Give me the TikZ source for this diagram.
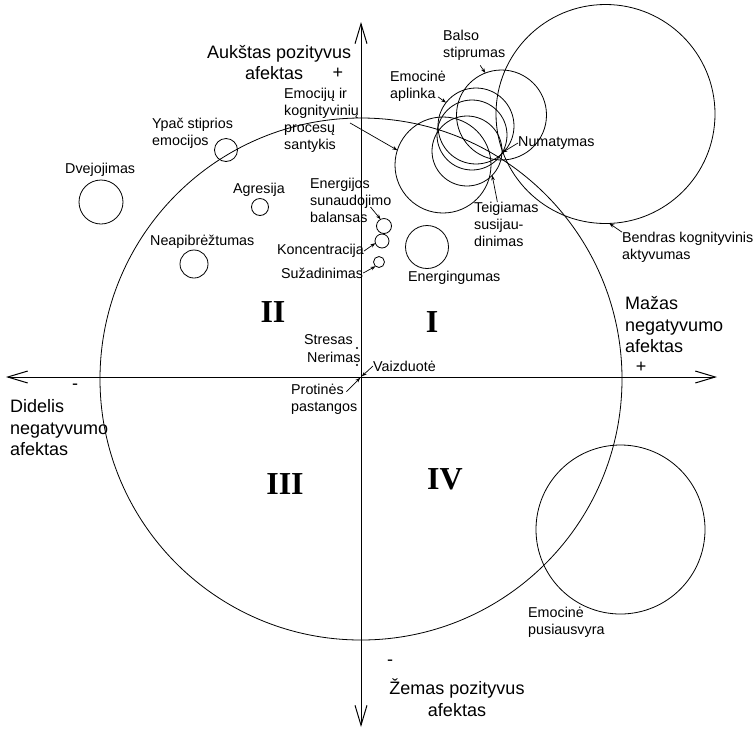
\documentclass[tikz,border=0pt]{standalone}
\usepackage{fontspec}
\setmainfont{Liberation Sans}
\newfontfamily\quadfont{Liberation Serif}
\usetikzlibrary{arrows.meta}
\tikzset{
  ring/.style={circle, draw=black, line width=0.8pt, inner sep=0pt, outer sep=0pt},
  spot/.style={circle, fill=black, inner sep=0pt, minimum size=2.2pt},
  lbl/.style={font=\fontsize{14.3}{17}\selectfont, inner sep=0pt, align=left, anchor=west},
  axlbl/.style={font=\fontsize{18}{21.5}\selectfont, inner sep=0pt, align=left, anchor=west},
  sign/.style={font=\fontsize{18}{21.5}\selectfont, inner sep=0pt},
  quad/.style={font=\quadfont\bfseries\fontsize{32}{32}\selectfont, inner sep=0pt},
  ptr/.style={-{Stealth[length=5pt,width=3.6pt]}, line width=0.7pt},
  axis/.style={{Straight Barb[length=20pt,width=12pt]}-{Straight Barb[length=20pt,width=12pt]}, line width=1pt},
}

\begin{document}
\begin{tikzpicture}[x=1pt, y=-1pt]
\useasboundingbox (0,0) rectangle (755,732);

% axes
\coordinate (o) at (361,377);
\coordinate (w) at (6,377);
\coordinate (e) at (717,377);
\coordinate (n) at (361,22);
\coordinate (s) at (361,727);
\draw[axis] (w) -- (e);
\draw[axis] (s) -- (n);

% circles
\node[ring, minimum size=522pt] (afektai) at (361,379) {};
\node[ring, minimum size=169pt] (pusiausv) at (620.5,529.5) {};
\node[ring, minimum size=219pt] (bendras) at (605.5,114) {};
\node[ring, minimum size=90pt] (balso) at (501.5,115) {};
\node[ring, minimum size=76pt] (aplinka) at (476,126) {};
\node[ring, minimum size=70pt] (numat) at (472,135) {};
\node[ring, minimum size=70pt] (teig) at (467,151) {};
\node[ring, minimum size=96pt] (santykis) at (443,165) {};
\node[ring, minimum size=23pt] (ypac) at (226,150) {};
\node[ring, minimum size=44pt] (dvej) at (101,202) {};
\node[ring, minimum size=17pt] (agres) at (260,207) {};
\node[ring, minimum size=28pt] (neap) at (194,264) {};
\node[ring, minimum size=15pt] (balansas) at (384,226) {};
\node[ring, minimum size=14pt] (konc) at (382,241) {};
\node[ring, minimum size=11pt] (suzad) at (379,262) {};
\node[ring, minimum size=43pt] (energing) at (427,247) {};
\node[spot] (stres) at (357,348) {};
\node[spot] (nerim) at (357,365) {};

% axis labels
\node[axlbl] (ax-n) at (207,62.5) {Aukštas pozityvus\\\hspace*{38pt}afektas};
\node[sign] (ax-n-plus) at (338,73) {+};
\node[axlbl] (ax-e) at (625,325) {Mažas\\negatyvumo\\afektas};
\node[sign] (ax-e-plus) at (641,367) {+};
\node[axlbl] (ax-w) at (10,428) {Didelis\\negatyvumo\\afektas};
\node[sign] (ax-w-minus) at (75,387) {-};
\node[axlbl, align=center, anchor=center] (ax-s) at (457,697.5) {Žemas pozityvus\\afektas};
\node[sign] (ax-s-minus) at (390,663) {-};

% quadrants
\node[quad] (q2) at (273,312) {II};
\node[quad] (q1) at (432,322) {I};
\node[quad] (q3) at (285,484) {III};
\node[quad] (q4) at (445,479) {IV};

% labels
\node[lbl] (lb-balso) at (443,45) {Balso\\stiprumas};
\node[lbl] (lb-aplinka) at (390,86.5) {Emocinė\\aplinka};
\node[lbl] (lb-santykis) at (284,120) {Emocijų ir\\kognityvinių\\procesų\\santykis};
\node[lbl] (lb-numat) at (518,143) {Numatymas};
\node[lbl] (lb-teig) at (474,224.5) {Teigiamas\\susijau-\\dinimas};
\node[lbl] (lb-bendras) at (622,247.5) {Bendras kognityvinis\\aktyvumas};
\node[lbl] (lb-ypac) at (152,133) {Ypač stiprios\\emocijos};
\node[lbl] (lb-dvej) at (65,170) {Dvejojimas};
\node[lbl] (lb-agres) at (233,190) {Agresija};
\node[lbl] (lb-neap) at (150,242) {Neapibrėžtumas};
\node[lbl] (lb-balansas) at (310,200) {Energijos\\sunaudojimo\\balansas};
\node[lbl] (lb-konc) at (277,251) {Koncentracija};
\node[lbl] (lb-suzad) at (281,273) {Sužadinimas};
\node[lbl] (lb-energing) at (408,278) {Energingumas};
\node[lbl] (lb-stres) at (304,340) {Stresas};
\node[lbl] (lb-nerim) at (307,357) {Nerimas};
\node[lbl] (lb-vaizd) at (373,366) {Vaizduotė};
\node[lbl] (lb-protin) at (291,399) {Protinės\\pastangos};
\node[lbl] (lb-pusiausv) at (528,622) {Emocinė\\pusiausvyra};

% pointers
\draw[ptr] ([xshift=6pt,yshift=-5pt]lb-balso.south) -- (balso.111);
\draw[ptr] ([xshift=-8pt,yshift=5pt]lb-aplinka.south east) -- (aplinka.142);
\draw[ptr] ([xshift=-9pt,yshift=-3pt]lb-santykis.east) -- (santykis.162);
\draw[ptr] (lb-numat.west) -- (numat.-30);
\draw[ptr] ([xshift=-9pt]lb-teig.north) -- (teig.-44);
\draw[ptr] (lb-bendras.north west) -- (bendras.-88);
\draw[ptr] ([xshift=-21pt,yshift=-7pt]lb-balansas.east) -- (balansas.117);
\draw[ptr] (lb-konc.east) -- (konc.198);
\draw[ptr] (lb-suzad.east) -- (suzad.231);
\draw[ptr, shorten >=1pt] (lb-vaizd.west) -- (o);
\draw[ptr, shorten >=1pt] ([xshift=-11pt,yshift=-8pt]lb-protin.north east) -- (o);
\end{tikzpicture}
\end{document}
